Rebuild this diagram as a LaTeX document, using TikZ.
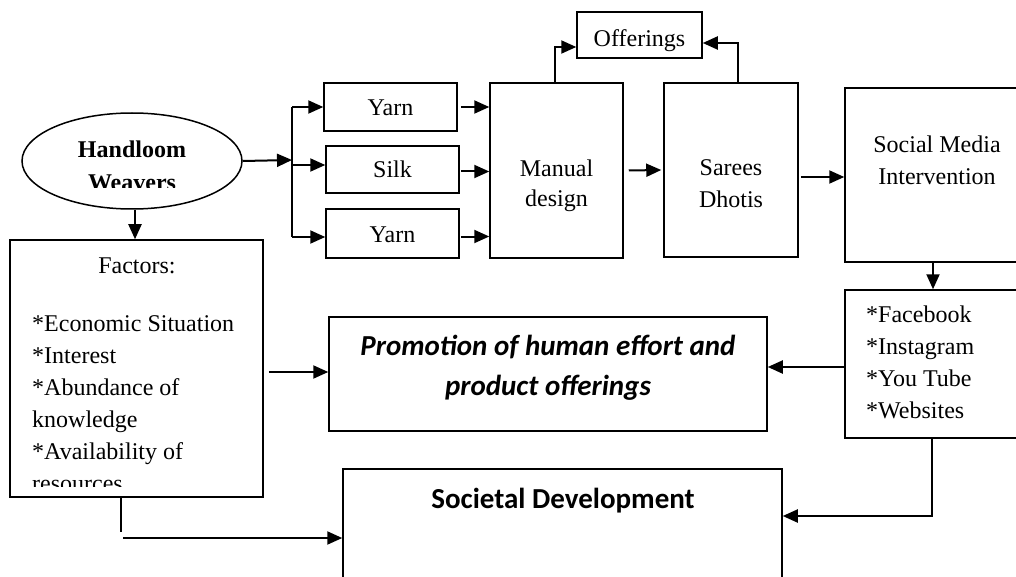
\documentclass[tikz,border=0pt]{standalone}
\usepackage{fontspec}
\setmainfont{Liberation Serif}
\newfontfamily\calibri{Carlito}
\usetikzlibrary{arrows.meta,shapes.geometric}

\begin{document}
\begin{tikzpicture}[x=1pt,y=-1pt,
  box/.style={draw, line width=1.5pt, inner sep=0pt},
  lbl/.style={anchor=base, inner sep=0pt, font=\fontsize{24}{28}\selectfont},
  lbll/.style={anchor=base west, inner sep=0pt, font=\fontsize{24}{28}\selectfont},
  big/.style={anchor=base, inner sep=0pt, font=\calibri\bfseries\fontsize{29}{35}\selectfont},
  conn/.style={line width=2pt},
  arr/.style={conn, -{Triangle[length=15pt,width=13pt]}},
]
\useasboundingbox (0,0) rectangle (1016,577);
\fill[white] (0,0) rectangle (1016,577);
\clip (0,0) rectangle (1016,577);

% ---- shapes ----
\node[box, ellipse, minimum width=220, minimum height=96] (hw) at (132,161) {};
\node[box, minimum width=253, minimum height=257] (fac) at (136.5,368.5) {};
\node[box, minimum width=133, minimum height=48] (y1) at (390.5,107) {};
\node[box, minimum width=133, minimum height=47] (silk) at (392.5,169.5) {};
\node[box, minimum width=133, minimum height=49] (y2) at (392.5,233.5) {};
\node[box, minimum width=133, minimum height=175] (md) at (556.5,170.5) {};
\node[box, minimum width=125, minimum height=46] (off) at (639.5,35) {};
\node[box, minimum width=134, minimum height=174] (sd) at (731,170) {};
\node[box, minimum width=195, minimum height=174] (smi) at (942.5,175) {};
\node[box, minimum width=195, minimum height=148] (fb) at (942.5,364) {};
\node[box, minimum width=438, minimum height=114] (promo) at (548,374) {};
\node[box, minimum width=439, minimum height=151] (soc) at (562.5,544.5) {};

% ---- texts ----
\node[lbl, font=\bfseries\fontsize{24}{28}\selectfont] (hw1) at (132,158) {Handloom};
\begin{scope}
  \clip (0,0) rectangle (300,188);
  \node[lbl, font=\bfseries\fontsize{24}{28}\selectfont] (hw2) at (132,191) {Weavers};
\end{scope}

\node[lbl] (fac0) at (137,273) {Factors:};
\begin{scope}
  \clip (10,240) rectangle (263,486);
  \node[lbll] (fac1) at (32,331) {*Economic Situation};
  \node[lbll] (fac2) at (32,363) {*Interest};
  \node[lbll] (fac3) at (32,395) {*Abundance of};
  \node[lbll] (fac4) at (32,427) {knowledge};
  \node[lbll] (fac5) at (32,459) {*Availability of};
  \node[lbll] (fac6) at (32,491) {resources};
\end{scope}

\node[lbl] (y1t) at (390.5,116) {Yarn};
\node[lbl] (silkt) at (392.5,178) {Silk};
\node[lbl] (y2t) at (392.5,243) {Yarn};
\node[lbl] (md1) at (556.5,177) {Manual};
\node[lbl] (md2) at (556.5,207) {design};
\node[lbl] (offt) at (639.5,47) {Offerings};
\node[lbl] (sd1) at (731,176) {Sarees};
\node[lbl] (sd2) at (731,208) {Dhotis};
\node[lbl] (smi1) at (937,153) {Social Media};
\node[lbl] (smi2) at (937,185) {Intervention};
\node[lbll] (fb1) at (866,322) {*Facebook};
\node[lbll] (fb2) at (866,354) {*Instagram};
\node[lbll] (fb3) at (866,386) {*You Tube};
\node[lbll] (fb4) at (866,418) {*Websites};
\node[big, font=\calibri\bfseries\itshape\fontsize{29}{35}\selectfont] (pr1) at (548,355) {Promotion of human effort and};
\node[big, font=\calibri\bfseries\itshape\fontsize{29}{35}\selectfont] (pr2) at (548,395) {product offerings};
\node[big] (soct) at (563,508) {Societal Development};

% ---- connectors ----
\coordinate (br) at (292,160);
\coordinate (bt) at (292,107);
\coordinate (bm) at (292,165);
\coordinate (bb) at (292,237);
\draw[arr] (hw.east) -- (br);
\draw[conn] (bt) -- (bb);
\draw[arr] (bt) -- (bt -| y1.west);
\draw[arr] (bm) -- (bm -| silk.west);
\draw[arr] (bb) -- (bb -| y2.west);

\draw[arr] ([xshift=3pt]y1.east) -- (y1.east -| md.west);
\draw[arr] ([xshift=1pt,yshift=-2pt]silk.east) -- ([yshift=-2pt]silk.east -| md.west);
\draw[arr] ([xshift=1pt,yshift=-3pt]y2.east) -- ([yshift=-3pt]y2.east -| md.west);

\draw[arr] ([xshift=5pt]md.east) -- ([xshift=-2pt]sd.west);
\draw[arr] ([xshift=2pt,yshift=-7pt]sd.east) -- ([yshift=-7pt]sd.east -| smi.west);

\coordinate (mx) at (555,47);
\draw[arr] (md.north -| mx) -- (mx) -- (mx -| off.west);
\coordinate (sx) at (738,43);
\draw[arr] (sd.north -| sx) -- (sx) -- (sx -| off.east);

\coordinate (dx) at (933,0);
\draw[arr] (smi.south -| dx) -- (fb.north -| dx);

\coordinate (ly) at (0,367);
\draw[arr] (fb.west |- ly) -- (promo.east |- ly);
\coordinate (ly2) at (0,372);
\draw[arr] ([xshift=5pt]fac.east |- ly2) -- (promo.west |- ly2);

\coordinate (fbd) at (932,516);
\draw[arr] (fb.south -| fbd) -- (fbd) -- (fbd -| soc.east);

\coordinate (hx) at (135,0);
\draw[arr] (hw.south -| hx) -- (fac.north -| hx);

\coordinate (fd) at (121,532);
\draw[conn] (fac.south -| fd) -- (fd);
\coordinate (fh) at (123,538);
\draw[arr] (fh) -- (fh -| soc.west);
\end{tikzpicture}
\end{document}
